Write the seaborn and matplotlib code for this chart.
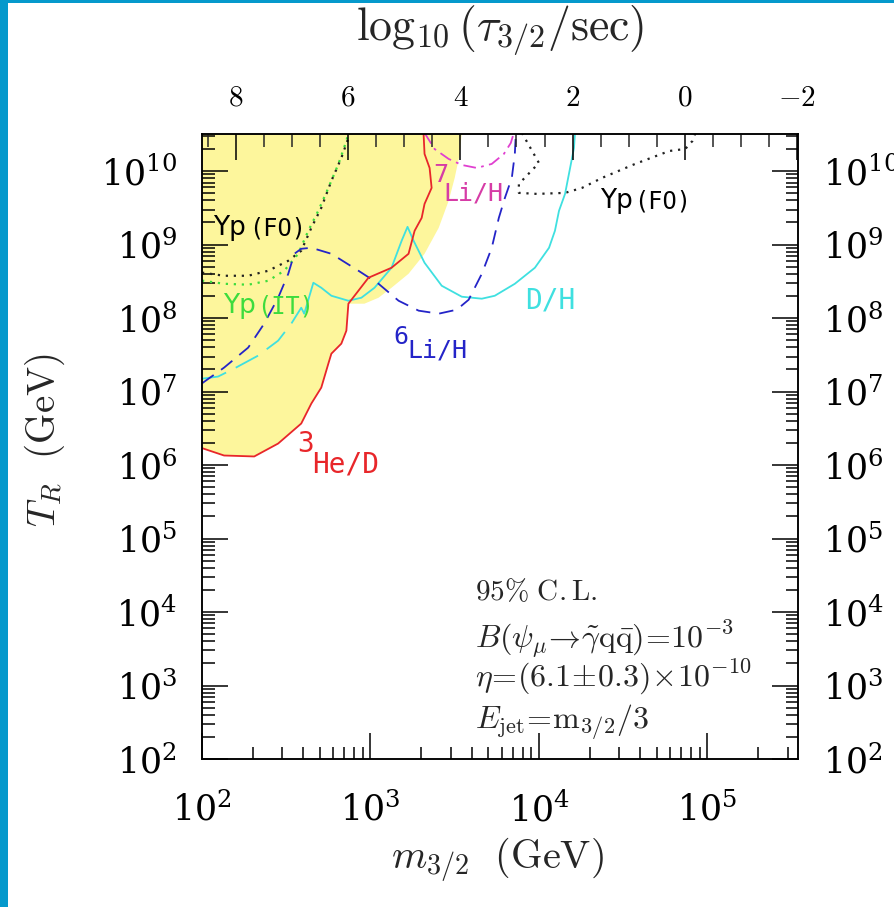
import numpy as np
import matplotlib
matplotlib.use("Agg")
import matplotlib.pyplot as plt
from matplotlib.patches import Rectangle
from matplotlib.ticker import FixedLocator, FuncFormatter, NullFormatter, LogLocator
import seaborn as sns

sns.set_theme(style="ticks")
plt.rcParams.update({
    "font.family": ["DejaVu Sans"],
    "mathtext.fontset": "cm",
    "axes.linewidth": 1.1,
    "axes.edgecolor": "black",
})

# ---- BBN constraint contours (log10 m_3/2 [GeV], log10 T_R [GeV]) ----
he3d_logm = [2.0, 2.006, 2.131, 2.31, 2.452, 2.589, 2.649, 2.708, 2.75, 2.768, 2.827,
             2.857, 2.869, 2.988, 3.125, 3.226, 3.262, 3.304, 3.321, 3.363, 3.351, 3.321, 3.315]
he3d_logT = [6.23, 6.226, 6.13, 6.117, 6.293, 6.565, 6.837, 7.054, 7.38, 7.516, 7.652,
             7.829, 8.196, 8.549, 8.685, 8.875, 9.188, 9.364, 9.554, 9.772, 10.043, 10.234, 10.52]

# excluded region beyond the 3He/D line
excl_logm = [2.869, 2.964, 3.048, 3.125, 3.226, 3.321, 3.405, 3.464, 3.5, 3.53, 3.542]
excl_logT = [8.209, 8.196, 8.277, 8.413, 8.603, 8.875, 9.228, 9.595, 9.908, 10.234, 10.52]

dh_low_logm = [2.0, 2.006, 2.095, 2.19, 2.333, 2.452, 2.53, 2.589, 2.607]
dh_low_logT = [7.17, 7.177, 7.204, 7.312, 7.489, 7.693, 7.924, 8.141, 8.06]

dh_logm = [2.607, 2.661, 2.708, 2.768, 2.869, 2.946, 3.024, 3.125, 3.185, 3.22, 3.256,
           3.321, 3.423, 3.542, 3.661, 3.738, 3.857, 3.976, 4.06, 4.095, 4.119, 4.155,
           4.185, 4.208, 4.214]
dh_logT = [8.06, 8.481, 8.413, 8.304, 8.236, 8.277, 8.413, 8.685, 9.052, 9.242, 9.052,
           8.753, 8.44, 8.291, 8.264, 8.304, 8.467, 8.685, 8.957, 9.188, 9.459, 9.69,
           10.043, 10.315, 10.52]

li6_logm = [2.0, 2.006, 2.131, 2.274, 2.369, 2.452, 2.512, 2.548, 2.589, 2.649, 2.768,
            2.929, 3.048, 3.167, 3.286, 3.405, 3.512, 3.583, 3.661, 3.72, 3.762, 3.798,
            3.839, 3.857, 3.863]
li6_logT = [7.11, 7.122, 7.326, 7.598, 7.924, 8.277, 8.603, 8.875, 8.943, 8.957, 8.875,
            8.644, 8.467, 8.236, 8.101, 8.06, 8.114, 8.25, 8.603, 8.957, 9.364, 9.636,
            9.908, 10.234, 10.52]

li7_logm = [3.321, 3.381, 3.464, 3.542, 3.631, 3.72, 3.792, 3.833, 3.851]
li7_logT = [10.52, 10.30, 10.166, 10.084, 10.043, 10.098, 10.234, 10.383, 10.52]

ypfo_a_logm = [2.0, 2.006, 2.131, 2.274, 2.393, 2.512, 2.589, 2.649, 2.708, 2.768,
               2.827, 2.869, 2.875]
ypfo_a_logT = [8.62, 8.617, 8.576, 8.576, 8.644, 8.78, 8.916, 9.228, 9.5, 9.867,
               10.179, 10.451, 10.52]

ypfo_b_logm = [3.899, 4.0, 3.881, 3.881, 3.988, 4.155, 4.256, 4.375, 4.571, 4.774,
               4.869, 4.911, 4.929]
ypfo_b_logT = [10.52, 10.111, 9.826, 9.704, 9.69, 9.704, 9.772, 9.908, 10.098, 10.274,
               10.302, 10.41, 10.52]

ypit_logm = [2.0, 2.006, 2.131, 2.274, 2.393, 2.488, 2.571, 2.631, 2.69, 2.75, 2.81,
             2.857, 2.869]
ypit_logT = [8.51, 8.508, 8.467, 8.454, 8.508, 8.644, 8.875, 9.188, 9.459, 9.772,
             10.098, 10.41, 10.52]

# axis ranges and decade labels
m_range = (1e2, 3.45e5)
T_range = (1e2, 3.2e10)
T_decades = list(range(2, 11))
m_decades = list(range(2, 6))
tau_major = [8, 6, 4, 2, 0, -2]


def tau_of_m(m):
    """log10 of the gravitino lifetime in seconds."""
    return 14.6 - 3.0 * np.log10(m)


def lin(a):
    return 10.0 ** np.asarray(a)


fig = plt.figure(figsize=(8.94, 9.07), dpi=100)
fig.patch.set_facecolor("white")
ax = fig.add_axes([202 / 894, (907 - 759) / 907, 596 / 894, 625 / 907])
ax.set_facecolor("white")
ax.set_xscale("log")
ax.set_yscale("log")
ax.set_xlim(*m_range)
ax.set_ylim(*T_range)

# shaded excluded region
poly_m = np.concatenate([[m_range[0]], lin(he3d_logm[:13]), lin(excl_logm[1:]), [m_range[0]]])
poly_T = np.concatenate([[lin(he3d_logT[0])], lin(he3d_logT[:13]), lin(excl_logT[1:]), [1e11]])
ax.fill(poly_m, poly_T, color="#fdf69c", lw=0, zorder=0.5)

lw = 1.3
common = dict(sort=False, estimator=None, legend=False, ax=ax)
sns.lineplot(x=lin(ypfo_a_logm), y=lin(ypfo_a_logT), color="#222222", lw=1.6,
             linestyle=(0, (1, 2.6)), **common)
sns.lineplot(x=lin(ypfo_b_logm), y=lin(ypfo_b_logT), color="#222222", lw=1.6,
             linestyle=(0, (1, 2.6)), **common)
sns.lineplot(x=lin(ypit_logm), y=lin(ypit_logT), color="#3ddc3d", lw=1.6,
             linestyle=(0, (1, 2.6)), **common)
sns.lineplot(x=lin(dh_low_logm), y=lin(dh_low_logT), color="#3fe0e0", lw=lw,
             linestyle=(0, (14, 6)), **common)
sns.lineplot(x=lin(dh_logm), y=lin(dh_logT), color="#3fe0e0", lw=lw, **common)
sns.lineplot(x=lin(li6_logm), y=lin(li6_logT), color="#2424c8", lw=lw,
             linestyle=(0, (8, 5)), **common)
sns.lineplot(x=lin(li7_logm), y=lin(li7_logT), color="#e040d0", lw=lw,
             linestyle=(0, (7, 3, 1.5, 3)), **common)
sns.lineplot(x=lin(he3d_logm), y=lin(he3d_logT), color="#e8262a", lw=lw, **common)

# ---- ticks ----
ax.xaxis.set_major_locator(FixedLocator([10.0 ** k for k in m_decades]))
ax.yaxis.set_major_locator(FixedLocator([10.0 ** k for k in T_decades]))
ax.xaxis.set_minor_locator(LogLocator(base=10, subs=np.arange(2, 10), numticks=30))
ax.yaxis.set_minor_locator(LogLocator(base=10, subs=np.arange(2, 10), numticks=30))
ax.xaxis.set_minor_formatter(NullFormatter())
ax.yaxis.set_minor_formatter(NullFormatter())
dec_fmt = FuncFormatter(lambda v, p: r"$10^{%d}$" % int(round(np.log10(v))))
ax.xaxis.set_major_formatter(dec_fmt)
ax.yaxis.set_major_formatter(dec_fmt)

ax2 = ax.twiny()
ax2.set_xlim(tau_of_m(m_range[0]), tau_of_m(m_range[1]))
ax2.xaxis.set_major_locator(FixedLocator(tau_major))
ax2.xaxis.set_minor_locator(FixedLocator(np.arange(-2.0, 8.75, 0.5)))
ax2.xaxis.set_major_formatter(FuncFormatter(lambda v, p: r"$%d$" % int(round(v))))
ax2.tick_params(axis="x", which="major", direction="in", length=19, width=1.1,
                labelsize=21, pad=16, colors="black")
ax2.tick_params(axis="x", which="minor", direction="in", length=9, width=1.1)
for s in ax2.spines.values():
    s.set_linewidth(1.1)

ax.tick_params(which="both", direction="in", width=1.1, colors="black",
               top=False, right=True, labelright=True, labelleft=True)
ax.tick_params(which="major", length=19, labelsize=25)
ax.tick_params(which="minor", length=9)
ax.tick_params(axis="y", which="major", pad=18)
ax.tick_params(axis="x", which="major", pad=24)
for t in ax.get_xticklabels() + ax.get_yticklabels():
    t.set_math_fontfamily("dejavuserif")
for tk in ax.yaxis.get_major_ticks():
    tk.label2.set_math_fontfamily("dejavuserif")

# ---- axis titles ----
fig.text(497 / 894, 1 - 860 / 907, r"$m_{3/2}\ \ (\mathrm{GeV})$", fontsize=29,
         ha="center", va="center")
fig.text(45 / 894, 1 - 440 / 907, r"$T_R\ \ (\mathrm{GeV})$", fontsize=28,
         ha="center", va="center", rotation=90)
fig.text(500 / 894, 1 - 31 / 907, r"$\log_{10}(\tau_{3/2}/\mathrm{sec})$", fontsize=33,
         ha="center", va="center")

# ---- contour labels ----
mono = "DejaVu Sans Mono"
def lab(x, y, s, color, size, family=mono, va="baseline"):
    ax.text(x, y, s, color=color, fontsize=size, family=family, va=va, ha="left", zorder=5)

lab(116, 1.35e9, "Yp", "black", 19, family="DejaVu Sans")
lab(190, 1.35e9, "(FO)", "black", 17)
lab(133, 1.17e8, "Yp", "#3ddc3d", 19, family="DejaVu Sans")
lab(213, 1.17e8, "(IT)", "#3ddc3d", 17)
lab(2350, 10 ** 10.109, "7", "#d63ca6", 18, va="top")
lab(2692, 10 ** 9.605, "Li/H", "#d63ca6", 18)
lab(1361, 10 ** 7.905, "6", "#2424c8", 18, va="top")
lab(1648, 10 ** 7.469, "Li/H", "#2424c8", 18)
lab(8260, 10 ** 8.136, "D/H", "#3fe0e0", 20)
lab(366, 10 ** 6.476, "3", "#e8262a", 20, va="top")
lab(450, 10 ** 5.905, "He/D", "#e8262a", 20)
lab(23000, 10 ** 9.497, "Yp", "black", 19, family="DejaVu Sans")
lab(36500, 10 ** 9.497, "(FO)", "black", 17)

# ---- model parameters ----
xa = 4170
ax.text(xa, 10 ** 4.163, r"$\mathrm{95\%\ C.L.}$", fontsize=21, va="baseline")
ax.text(xa, 10 ** 3.51, r"$B(\psi_{\mu}\!\rightarrow\!\tilde{\gamma}\mathrm{q}\bar{\mathrm{q}})\!=\!10^{-3}$",
        fontsize=23, va="baseline")
ax.text(xa, 10 ** 2.99, r"$\eta\!=\!(6.1\!\pm\!0.3)\!\times\!10^{-10}$", fontsize=23, va="baseline")
ax.text(xa, 10 ** 2.42, r"$E_{\mathrm{jet}}\!=\!\mathrm{m}_{3/2}/3$", fontsize=23, va="baseline")

# page border
fig.add_artist(Rectangle((0, 0), 8 / 894, 1, transform=fig.transFigure,
                         color="#0599cc", lw=0, zorder=10))
fig.add_artist(Rectangle((0, 1 - 3 / 907), 1, 3 / 907, transform=fig.transFigure,
                         color="#0599cc", lw=0, zorder=10))

fig.savefig("out.png", dpi=100, facecolor="white")
